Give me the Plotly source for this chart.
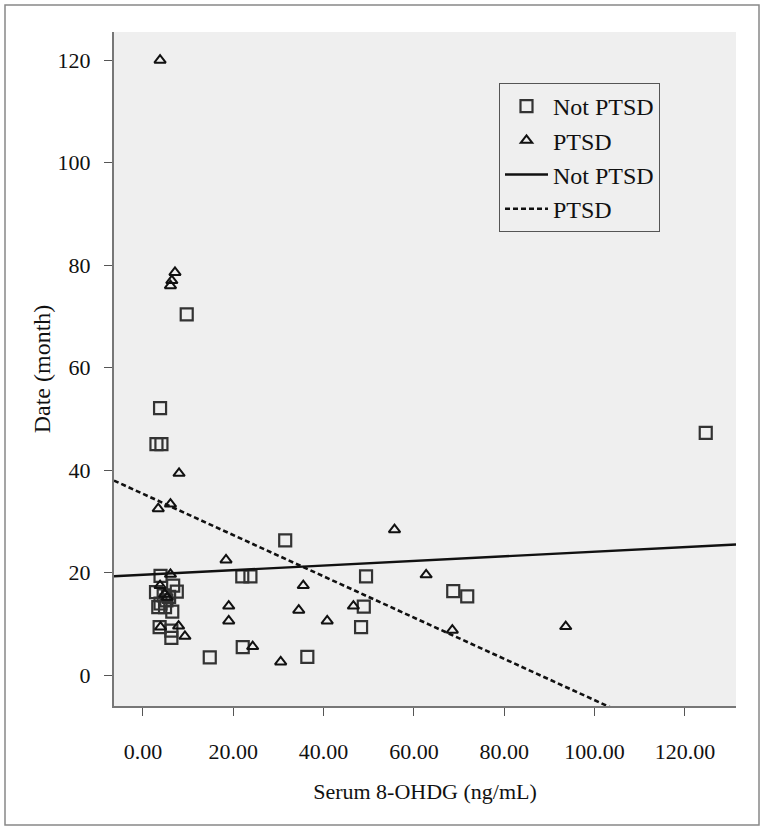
import plotly.graph_objects as go

# ---- data ----
not_ptsd_x = [9.7, 3.8, 3.0, 4.1, 3.9, 6.7, 2.9, 7.5, 4.6, 5.2, 5.8, 3.9, 3.4, 4.9, 6.5,
              3.7, 6.3, 6.3, 22.1, 14.8, 22.0, 23.8, 31.5, 49.4, 68.7, 71.8, 48.9, 48.3,
              36.4, 124.6]
not_ptsd_y = [70.4, 52.1, 45.1, 45.1, 19.4, 17.5, 16.2, 16.3, 15.6, 14.6, 15.3, 14.0, 13.3, 13.3, 12.4,
              9.4, 8.7, 7.3, 5.5, 3.5, 19.3, 19.3, 26.3, 19.3, 16.4, 15.4, 13.4, 9.4,
              3.6, 47.3]

ptsd_x = [3.8, 7.1, 6.4, 6.1, 8.0, 6.1, 3.4, 18.4, 6.1, 3.8, 4.8, 5.4, 3.9, 7.9, 9.3,
          19.0, 19.0, 24.3, 30.5, 35.5, 55.7, 62.7, 34.5, 40.8, 46.6, 68.5, 93.6]
ptsd_y = [120.0, 78.6, 77.0, 76.0, 39.4, 33.4, 32.5, 22.5, 19.7, 17.5, 15.8, 15.2, 9.4, 9.6, 7.6,
          13.5, 10.6, 5.6, 2.6, 17.5, 28.4, 19.6, 12.7, 10.6, 13.5, 8.8, 9.5]

# fit lines (intercept, slope)
fit_not_ptsd = (19.6, 0.045)
fit_ptsd = (35.4, -0.4026)

x_range = [-6.4, 131.3]
y_range = [-6.0, 125.5]
x_ticks = [0, 20, 40, 60, 80, 100, 120]
y_ticks = [0, 20, 40, 60, 80, 100, 120]

FONT = "Liberation Serif"

fig = go.Figure()
fig.add_trace(go.Scatter(
    x=not_ptsd_x, y=not_ptsd_y, mode="markers", name="Not PTSD", legendgroup="a",
    marker=dict(symbol="square-open", size=12, color="#333333", line=dict(width=2.2))))
fig.add_trace(go.Scatter(
    x=ptsd_x, y=ptsd_y, mode="markers", name="PTSD", legendgroup="b",
    marker=dict(symbol="triangle-up-open", size=10, color="#111111", line=dict(width=2))))

lx = x_range
fig.add_trace(go.Scatter(
    x=lx, y=[fit_not_ptsd[0] + fit_not_ptsd[1] * v for v in lx], mode="lines",
    name="Not PTSD", legendgroup="c", line=dict(color="#111111", width=2.4)))
fig.add_trace(go.Scatter(
    x=lx, y=[fit_ptsd[0] + fit_ptsd[1] * v for v in lx], mode="lines",
    name="PTSD", legendgroup="d", line=dict(color="#111111", width=2.6, dash="5px,3px")))

# plot area: x 114..736, y 32..706 in pixels
L, R, T, B = 114, 736, 32, 706
W, H = 766, 831
pw, ph = R - L, B - T

fig.update_layout(
    width=W, height=H,
    margin=dict(l=L, r=W - R, t=T, b=H - B),
    paper_bgcolor="white", plot_bgcolor="#EFEFEF",
    font=dict(family=FONT, size=22, color="#111111"),
    showlegend=True,
    legend=dict(x=(499 - L) / pw, y=(B - 83) / ph, xanchor="left", yanchor="top",
                bgcolor="#EFEFEF", bordercolor="#555555", borderwidth=1,
                font=dict(family=FONT, size=24, color="#111111"),
                tracegroupgap=0, itemwidth=43),
    xaxis=dict(range=x_range, tickvals=x_ticks, tickformat=".2f", showgrid=False,
               zeroline=False, showline=True, linecolor="#777777", linewidth=2,
               ticks="outside", ticklen=8, tickcolor="#555555", ticklabelstandoff=17,
               tickfont=dict(family=FONT, size=22),
               title=dict(text="Serum 8-OHDG (ng/mL)", standoff=20,
                          font=dict(family=FONT, size=22))),
    yaxis=dict(range=y_range, tickvals=y_ticks, showgrid=False,
               zeroline=False, showline=True, linecolor="#777777", linewidth=2,
               ticks="outside", ticklen=8, tickcolor="#555555", ticklabelstandoff=9,
               tickfont=dict(family=FONT, size=22),
               title=dict(text="Date (month)", standoff=0,
                          font=dict(family=FONT, size=24))),
    shapes=[dict(type="rect", xref="paper", yref="paper",
                 x0=(5 - L) / pw, x1=(759 - L) / pw,
                 y0=(B - 825) / ph, y1=(B - 5) / ph,
                 line=dict(color="#888888", width=1.5), fillcolor="rgba(0,0,0,0)",
                 layer="below")],
)

fig.write_html("out.html", config={"displayModeBar": False},
               post_script="document.body.style.margin='0px';document.body.style.overflow='hidden';")
